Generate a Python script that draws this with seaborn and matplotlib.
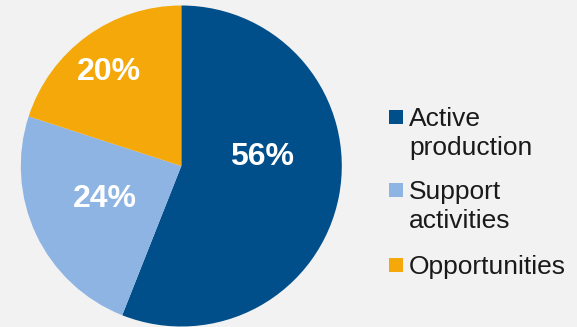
import matplotlib
matplotlib.use("Agg")
import matplotlib.pyplot as plt
import seaborn as sns
from matplotlib.patches import Rectangle

# ---- data ----
categories = ["Active production", "Support activities", "Opportunities"]
legend_lines = [["Active", "production"], ["Support", "activities"], ["Opportunities"]]
values = [56, 24, 20]
colors = ["#004f8a", "#8eb4e3", "#f5a80a"]

# ---- layout (label offsets in pie-radius units, legend in pixels) ----
label_pos = [(0.505, 0.058), (-0.478, -0.207), (-0.45, 0.588)]
W, H = 577, 327
BG = "#f2f2f2"

sns.set_theme(style="white", rc={"figure.facecolor": BG, "axes.facecolor": BG})
plt.rcParams["font.family"] = ["Liberation Sans", "DejaVu Sans"]

fig = plt.figure(figsize=(W / 100, H / 100), dpi=100)
cx, cy, r = 181.3, 166.0, 160.5
ax = fig.add_axes([(cx - r) / W, (H - cy - r) / H, 2 * r / W, 2 * r / H])
ax.set_facecolor(BG)

wedges, _ = ax.pie(values, colors=colors, startangle=90, counterclock=False,
                   radius=1, wedgeprops=dict(linewidth=0))
ax.set_xlim(-1, 1)
ax.set_ylim(-1, 1)
ax.set_aspect("equal")
ax.axis("off")

for v, (dx, dy) in zip(values, label_pos):
    ax.text(dx, dy, f"{v}%", ha="center", va="center", color="white",
            fontsize=23, fontweight="bold")

# ---- legend (manual, handle aligned with first text line) ----
first_base = [126, 199, 274]
line_gap = 29
sq_x, sq = 389, 14
text_x = 409
for col, lines, base in zip(colors, legend_lines, first_base):
    fig.patches.append(Rectangle((sq_x / W, (H - (base - 2)) / H), sq / W, sq / H,
                                 transform=fig.transFigure, facecolor=col,
                                 edgecolor="none"))
    for i, ln in enumerate(lines):
        fig.text(text_x / W, (H - (base + i * line_gap)) / H, ln,
                 ha="left", va="baseline", fontsize=19, color="#1a1a1a")

fig.savefig("out.png", dpi=100, facecolor=BG)
